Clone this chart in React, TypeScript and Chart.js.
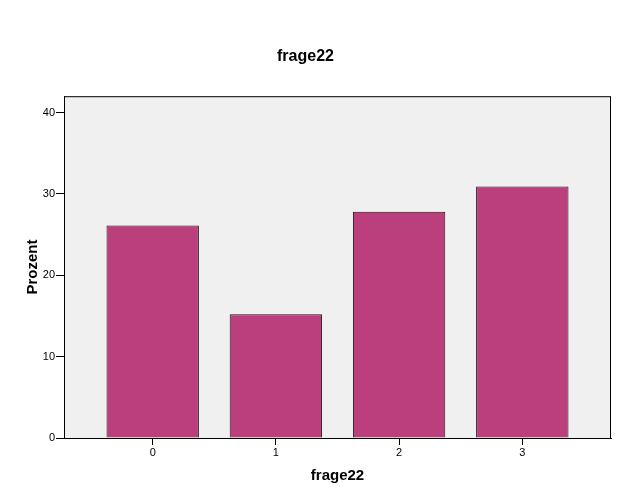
import React, { useEffect, useRef } from "react";
import { Chart, registerables } from "chart.js";

Chart.register(...registerables);

const categories = ["0", "1", "2", "3"];
const percentValues = [26.1, 15.2, 27.8, 30.9];
const yTickValues = [0, 10, 20, 30, 40];
const chartTitle = "frage22";
const xTitle = "frage22";
const yTitle = "Prozent";

const FONT = "Arial, 'Liberation Sans', sans-serif";

const framePlugin = {
  id: "frame",
  beforeDraw(chart: any) {
    const { ctx, chartArea } = chart;
    ctx.save();
    ctx.fillStyle = "#f0f0f0";
    ctx.fillRect(chartArea.left, chartArea.top, chartArea.right - chartArea.left, chartArea.bottom - chartArea.top);
    ctx.restore();
  },
  afterDraw(chart: any) {
    const { ctx, chartArea } = chart;
    ctx.save();
    ctx.strokeStyle = "#000";
    ctx.lineWidth = 1;
    ctx.strokeRect(chartArea.left + 0.5, chartArea.top + 0.5, chartArea.right - chartArea.left - 1, chartArea.bottom - chartArea.top);
    ctx.restore();
  },
};

export default function App() {
  const canvasRef = useRef<HTMLCanvasElement | null>(null);

  useEffect(() => {
    document.body.style.margin = "0";
    const canvas = canvasRef.current;
    if (!canvas) return;
    const chart = new Chart(canvas, {
      type: "bar",
      data: {
        datasets: [
          {
            data: percentValues.map((v, i) => ({ x: i, y: v })),
            backgroundColor: "#bb3f7d",
            borderColor: "#1e1016",
            borderWidth: 1,
            categoryPercentage: 1,
            barPercentage: 0.75,
          },
        ],
      },
      options: {
        animation: false,
        responsive: false,
        maintainAspectRatio: false,
        layout: { padding: { left: 0, right: 14, top: 0, bottom: 0 } },
        plugins: {
          legend: { display: false },
          tooltip: { enabled: false },
          title: {
            display: true,
            text: chartTitle,
            color: "#000",
            font: { family: FONT, size: 16, weight: "bold", lineHeight: 1.2 },
            padding: { top: 47, bottom: 30 },
          },
        },
        scales: {
          x: {
            type: "linear",
            min: -0.72,
            max: 3.72,
            offset: false,
            afterBuildTicks: (axis: any) => {
              axis.ticks = categories.map((_, i) => ({ value: i }));
            },
            afterFit: (axis: any) => {
              axis.height = 62;
            },
            ticks: {
              color: "#000",
              font: { family: FONT, size: 11 },
              padding: 1,
              maxRotation: 0,
              autoSkip: false,
              callback: (v: any) => categories[v] ?? "",
            },
            grid: { offset: false, drawOnChartArea: false, drawTicks: true, tickLength: 7, color: "#000" },
            border: { display: true, color: "#000" },
            title: {
              display: true,
              text: xTitle,
              color: "#000",
              font: { family: FONT, size: 15, weight: "bold", lineHeight: 1.2 },
              padding: { top: 0, bottom: 15 },
            },
          },
          y: {
            min: 0,
            max: 42,
            afterBuildTicks: (axis: any) => {
              axis.ticks = yTickValues.map((v) => ({ value: v }));
            },
            afterFit: (axis: any) => {
              axis.width = 64;
            },
            ticks: {
              color: "#000",
              font: { family: FONT, size: 11 },
              padding: 1,
            },
            grid: { drawOnChartArea: false, drawTicks: true, tickLength: 8, color: "#000" },
            border: { display: true, color: "#000" },
            title: {
              display: true,
              text: yTitle,
              color: "#000",
              font: { family: FONT, size: 15, weight: "bold", lineHeight: 1.2 },
              padding: { top: 24, bottom: 0 },
            },
          },
        },
      },
      plugins: [framePlugin],
    });
    return () => chart.destroy();
  }, []);

  return (
    <div style={{ width: 625, height: 500, background: "#fff" }}>
      <canvas ref={canvasRef} width={625} height={500} style={{ display: "block" }} />
    </div>
  );
}
